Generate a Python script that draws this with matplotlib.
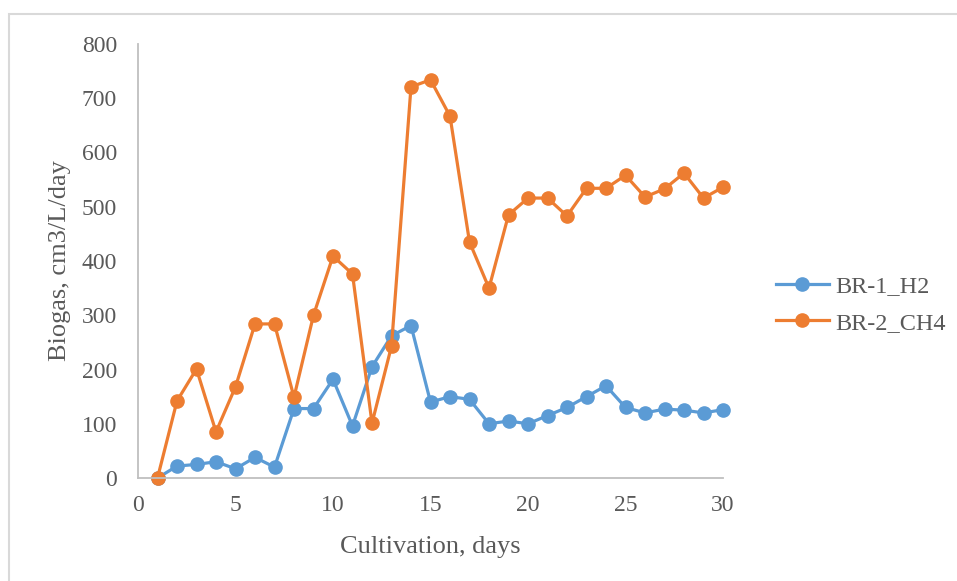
import numpy as np
import matplotlib.pyplot as plt
from matplotlib.patches import Rectangle

days = list(range(1, 31))
br1_h2 = [0, 22, 25, 30, 17, 38, 20, 128, 128, 182,
          96, 205, 262, 281, 140, 150, 145, 100, 105, 100,
          115, 130, 150, 170, 130, 120, 127, 125, 120, 126]
br2_ch4 = [0, 142, 201, 85, 168, 284, 284, 149, 300, 409,
           376, 101, 243, 721, 734, 667, 435, 350, 485, 516,
           516, 483, 534, 534, 558, 518, 533, 562, 516, 536]
x_ticks = [0, 5, 10, 15, 20, 25, 30]
y_ticks = [0, 100, 200, 300, 400, 500, 600, 700, 800]

plt.rcParams['font.family'] = ['Liberation Serif', 'DejaVu Serif']

W, H = 957, 581
fig = plt.figure(figsize=(W / 100, H / 100), dpi=100)
ax = fig.add_axes([138 / W, 1 - 478 / H, (723 - 138) / W, (478 - 44) / H])

ax.plot(days, br1_h2, 'o-', color='#5B9BD5', linewidth=2.3, markersize=9.5, label='BR-1_H2')
ax.plot(days, br2_ch4, 'o-', color='#ED7D31', linewidth=2.3, markersize=9.5, label='BR-2_CH4')

ax.set_xlim(0, 30)
ax.set_ylim(0, 800)
ax.set_xticks(x_ticks)
ax.set_yticks(y_ticks)
ax.tick_params(axis='x', length=0, labelsize=17, colors='#595959', pad=12)
ax.tick_params(axis='y', length=0, labelsize=17, colors='#595959', pad=15)
for s in ['top', 'right']:
    ax.spines[s].set_visible(False)
for s in ['left', 'bottom']:
    ax.spines[s].set_color('#BFBFBF')
    ax.spines[s].set_linewidth(1.3)
for ln in ax.lines:
    ln.set_clip_on(False)

ax.set_xlabel('Cultivation, days', fontsize=19, color='#595959', labelpad=14.5)
ax.set_ylabel('Biogas, cm3/L/day', fontsize=19, color='#595959', labelpad=8)

ax.legend(loc='center left', bbox_to_anchor=(1.09, 0.40), frameon=False,
          borderaxespad=0, borderpad=0, fontsize=17.5, labelcolor='#595959',
          handlelength=2.2, handletextpad=0.25, labelspacing=0.6)

fig.patches.append(Rectangle((9 / W, -0.1), 1.2, 1 - 14 / H + 0.1,
                             transform=fig.transFigure, fill=False,
                             edgecolor='#D9D9D9', linewidth=1.5))

fig.savefig('out.png', dpi=100)
